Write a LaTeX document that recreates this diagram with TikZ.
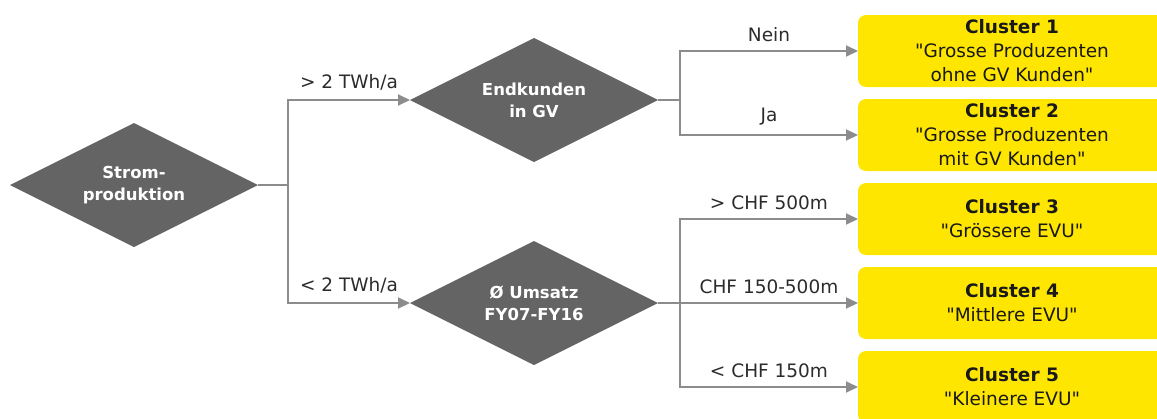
\documentclass[tikz,border=0pt]{standalone}
\usepackage{fontspec}
\setmainfont{DejaVu Sans}[Ligatures=TeXOff]
\usetikzlibrary{arrows.meta,positioning,shapes,calc}

\definecolor{eygray}{HTML}{646464}
\definecolor{eyyellow}{HTML}{FFE600}
\definecolor{linegray}{HTML}{8C8C8C}
\definecolor{labelgray}{HTML}{2B2B2B}

\tikzset{
  decision/.style={diamond, aspect=2, fill=eygray, text=white, outer sep=0pt, inner sep=0pt,
    minimum width=248pt, minimum height=124pt, align=center,
    font=\bfseries\fontsize{16.5}{22}\selectfont},
  cluster/.style={rectangle, rounded corners=8pt, fill=eyyellow, outer sep=0pt,
    minimum width=308pt, minimum height=72pt, align=center, text=black!90,
    font=\fontsize{18.5}{24}\selectfont},
  link/.style={draw=linegray, line width=2pt},
  arr/.style={link, -{Triangle[length=12pt,width=11pt]}},
  cond/.style={above=5pt, text=labelgray, font=\fontsize{18.5}{20}\selectfont},
}

\begin{document}
\begin{tikzpicture}[x=1pt, y=-1pt]
  \useasboundingbox (0,0) rectangle (1157,418);
  \clip (0,0) rectangle (1157,418);

  % decisions
  \node[decision] (strom)  at (134,185) {Strom-\\produktion};
  \node[decision] (endk)   at (534,100) {Endkunden\\in GV};
  \node[decision] (umsatz) at (534,303) {Ø Umsatz\\FY07-FY16};

  % clusters, cut off at the right edge
  \node[cluster] (c1) at (1012,51)  {\textbf{Cluster 1}\\"Grosse Produzenten\\ohne GV Kunden"};
  \node[cluster] (c2) at (1012,135) {\textbf{Cluster 2}\\"Grosse Produzenten\\mit GV Kunden"};
  \node[cluster] (c3) at (1012,219) {\textbf{Cluster 3}\\"Grössere EVU"};
  \node[cluster] (c4) at (1012,303) {\textbf{Cluster 4}\\"Mittlere EVU"};
  \node[cluster] (c5) at (1012,387) {\textbf{Cluster 5}\\"Kleinere EVU"};

  % branch points
  \coordinate (j1) at ($(strom.east)+(30,0)$);
  \coordinate (j2) at ($(endk.east)+(22,0)$);
  \coordinate (j3) at ($(umsatz.east)+(22,0)$);

  \draw[link] (strom.east) -- (j1);
  \draw[arr] (j1) |- node[cond, pos=0.75] {> 2 TWh/a} (endk.west);
  \draw[arr] (j1) |- node[cond, pos=0.75] {< 2 TWh/a} (umsatz.west);

  \draw[link] (endk.east) -- (j2);
  \draw[arr] (j2) |- node[cond, pos=0.75] {Nein} (c1.west);
  \draw[arr] (j2) |- node[cond, pos=0.75] {Ja} (c2.west);

  \draw[link] (umsatz.east) -- (j3);
  \draw[arr] (j3) |- node[cond, pos=0.75] {> CHF 500m} (c3.west);
  \draw[arr] (j3) |- node[cond, pos=0.75] {CHF 150-500m} (c4.west);
  \draw[arr] (j3) |- node[cond, pos=0.75] {< CHF 150m} (c5.west);
\end{tikzpicture}
\end{document}
